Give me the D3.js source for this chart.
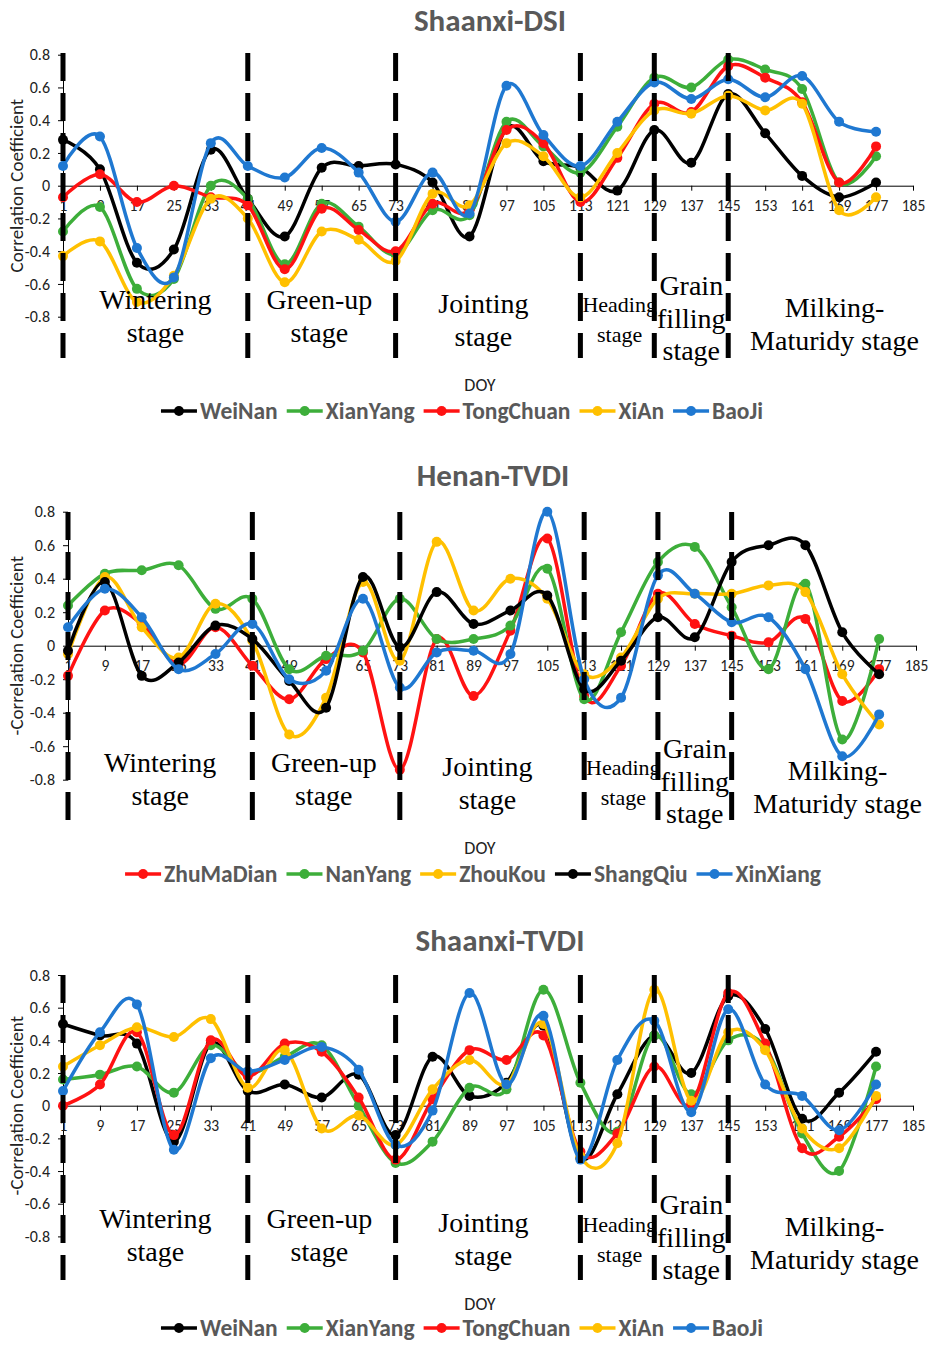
<!DOCTYPE html>
<html>
<head>
<meta charset="utf-8">
<script src="https://cdn.jsdelivr.net/npm/d3@7"></script>
<style>
  body { margin: 0; background: #fff; }
  svg { display: block; }
  .tick text { font-family: Carlito, "Liberation Sans", Arial, sans-serif; fill: #222; }
</style>
</head>
<body>
<svg id="chart" width="928" height="1345"></svg>
<script>
// DOY sample points and axis ticks
const DOY = [1, 9, 17, 25, 33, 41, 49, 57, 65, 73, 81, 89, 97, 105, 113, 121, 129, 137, 145, 153, 161, 169, 177];
const DOY_TICKS = [1, 9, 17, 25, 33, 41, 49, 57, 65, 73, 81, 89, 97, 105, 113, 121, 129, 137, 145, 153, 161, 169, 177, 185];
const Y_TICKS = [0.8, 0.6, 0.4, 0.2, 0, -0.2, -0.4, -0.6, -0.8];
const STAGE_BOUNDS = [1, 41, 73, 113, 129, 145];

const SHAANXI_NAMES = ['WeiNan', 'XianYang', 'TongChuan', 'XiAn', 'BaoJi'];
const SHAANXI_COLORS = ['#000000', '#3dae3a', '#ff1212', '#ffc000', '#1f78d1'];
const HENAN_NAMES = ['ZhuMaDian', 'NanYang', 'ZhouKou', 'ShangQiu', 'XinXiang'];
const HENAN_COLORS = ['#ff1212', '#3dae3a', '#ffc000', '#000000', '#1f78d1'];

// Shaanxi-DSI
const DSI_WEINAN    = [0.28, 0.10, -0.47, -0.39, 0.22, -0.08, -0.31, 0.11, 0.12, 0.13, 0.02, -0.31, 0.35, 0.15, 0.11, -0.03, 0.34, 0.14, 0.56, 0.32, 0.06, -0.07, 0.02];
const DSI_XIANYANG  = [-0.28, -0.13, -0.63, -0.57, 0.00, -0.08, -0.48, -0.11, -0.25, -0.42, -0.15, -0.18, 0.39, 0.24, 0.08, 0.36, 0.66, 0.60, 0.77, 0.71, 0.59, 0.02, 0.18];
const DSI_TONGCHUAN = [-0.07, 0.07, -0.10, 0.00, -0.07, -0.12, -0.51, -0.14, -0.27, -0.40, -0.11, -0.15, 0.34, 0.26, -0.10, 0.17, 0.50, 0.45, 0.73, 0.66, 0.51, 0.02, 0.24];
const DSI_XIAN      = [-0.43, -0.34, -0.71, -0.55, -0.08, -0.20, -0.59, -0.28, -0.33, -0.46, -0.05, -0.12, 0.26, 0.18, -0.07, 0.20, 0.46, 0.44, 0.55, 0.46, 0.50, -0.15, -0.07];
const DSI_BAOJI     = [0.12, 0.30, -0.38, -0.56, 0.26, 0.12, 0.05, 0.23, 0.08, -0.22, 0.08, -0.17, 0.61, 0.31, 0.12, 0.39, 0.63, 0.53, 0.65, 0.54, 0.67, 0.39, 0.33];

// Henan-TVDI
const HN_ZHUMADIAN = [-0.18, 0.21, 0.13, -0.11, 0.11, -0.12, -0.32, -0.08, -0.04, -0.74, 0.04, -0.30, 0.09, 0.64, -0.30, -0.12, 0.31, 0.13, 0.06, 0.02, 0.16, -0.33, -0.14];
const HN_NANYANG   = [0.24, 0.43, 0.45, 0.48, 0.22, 0.28, -0.14, -0.06, -0.03, 0.28, 0.04, 0.04, 0.12, 0.46, -0.32, 0.08, 0.50, 0.59, 0.23, -0.14, 0.37, -0.56, 0.04];
const HN_ZHOUKOU   = [-0.05, 0.41, 0.11, -0.07, 0.25, 0.03, -0.53, -0.31, 0.38, -0.09, 0.62, 0.21, 0.40, 0.28, -0.17, -0.07, 0.28, 0.31, 0.31, 0.36, 0.32, -0.17, -0.47];
const HN_SHANGQIU  = [-0.03, 0.38, -0.18, -0.10, 0.12, 0.04, -0.21, -0.37, 0.41, -0.01, 0.32, 0.13, 0.21, 0.30, -0.26, -0.09, 0.17, 0.05, 0.50, 0.60, 0.60, 0.08, -0.17];
const HN_XINXIANG  = [0.11, 0.34, 0.17, -0.14, -0.05, 0.13, -0.20, -0.15, 0.28, -0.25, -0.04, -0.03, -0.05, 0.80, -0.20, -0.31, 0.42, 0.31, 0.14, 0.17, -0.14, -0.66, -0.41];

// Shaanxi-TVDI
const TV_WEINAN    = [0.50, 0.43, 0.38, -0.22, 0.38, 0.09, 0.13, 0.05, 0.19, -0.18, 0.30, 0.06, 0.14, 0.49, -0.32, 0.07, 0.43, 0.20, 0.67, 0.47, -0.08, 0.08, 0.33];
const TV_XIANYANG  = [0.16, 0.19, 0.24, 0.08, 0.37, 0.20, 0.30, 0.37, 0.00, -0.35, -0.22, 0.11, 0.10, 0.71, 0.14, -0.16, 0.43, 0.07, 0.40, 0.36, -0.17, -0.40, 0.24];
const TV_TONGCHUAN = [0.00, 0.13, 0.45, -0.18, 0.40, 0.18, 0.38, 0.33, 0.05, -0.33, 0.04, 0.34, 0.28, 0.43, -0.28, -0.17, 0.24, 0.01, 0.69, 0.38, -0.26, -0.19, 0.04];
const TV_XIAN      = [0.24, 0.37, 0.48, 0.42, 0.53, 0.11, 0.34, -0.14, -0.06, -0.24, 0.10, 0.28, 0.13, 0.50, -0.31, -0.23, 0.71, 0.03, 0.45, 0.34, -0.14, -0.26, 0.06];
const TV_BAOJI     = [0.09, 0.45, 0.62, -0.27, 0.29, 0.21, 0.28, 0.36, 0.22, -0.24, -0.03, 0.69, 0.13, 0.55, -0.33, 0.28, 0.52, -0.04, 0.59, 0.13, 0.06, -0.15, 0.13];

const STAGES = [
  { lines: ['Wintering', 'stage'], doy: 21, size: 28, dy: [-18, 15] },
  { lines: ['Green-up', 'stage'], doy: 56.5, size: 28, dy: [-18, 15] },
  { lines: ['Jointing', 'stage'], doy: 92, size: 28, dy: [-14, 19] },
  { lines: ['Heading', 'stage'], doy: 121.5, size: 22, dy: [-12, 18] },
  { lines: ['Grain', 'filling', 'stage'], doy: 137, size: 28, dy: [-32, 1, 33] },
  { lines: ['Milking-', 'Maturidy stage'], doy: 168, size: 28, dy: [-10, 23] }
];

const PANELS = [
  { title: 'Shaanxi-DSI', titleX: 490, titleY: 20, yLabel: 'Correlation Coefficient',
    left: 63, right: 913, top: 54.7, bottom: 316.7, dashTop: 53, dashBottom: 358,
    doyY: 385, legendY: 411, legendX: 462,
    names: SHAANXI_NAMES, colors: SHAANXI_COLORS,
    values: [DSI_WEINAN, DSI_XIANYANG, DSI_TONGCHUAN, DSI_XIAN, DSI_BAOJI] },
  { title: 'Henan-TVDI', titleX: 493, titleY: 475, yLabel: '-Correlation Coefficient',
    left: 68, right: 916, top: 511.7, bottom: 779.7, dashTop: 512, dashBottom: 820,
    doyY: 848, legendY: 874, legendX: 473,
    names: HENAN_NAMES, colors: HENAN_COLORS,
    values: [HN_ZHUMADIAN, HN_NANYANG, HN_ZHOUKOU, HN_SHANGQIU, HN_XINXIANG] },
  { title: 'Shaanxi-TVDI', titleX: 500, titleY: 940, yLabel: '-Correlation Coefficient',
    left: 63, right: 913, top: 975, bottom: 1236.4, dashTop: 975, dashBottom: 1280,
    doyY: 1304, legendY: 1328, legendX: 462,
    names: SHAANXI_NAMES, colors: SHAANXI_COLORS,
    values: [TV_WEINAN, TV_XIANYANG, TV_TONGCHUAN, TV_XIAN, TV_BAOJI] }
];

const SANS = 'Carlito, "Liberation Sans", Arial, sans-serif';
const SERIF = '"Liberation Serif", "Times New Roman", serif';

let svg = d3.select('#chart');

function drawPanel(p) {
  let x = d3.scaleLinear().domain([1, 185]).range([p.left, p.right]);
  let y = d3.scaleLinear().domain([-0.8, 0.8]).range([p.bottom, p.top]);
  let g = svg.append('g');

  g.append('text')
    .attr('x', p.titleX).attr('y', p.titleY).attr('dy', '0.35em')
    .attr('text-anchor', 'middle')
    .style('font-family', SANS).style('font-weight', 'bold').style('font-size', '31px')
    .style('fill', '#595959')
    .text(p.title);

  // y axis
  let yAxis = g.append('g')
    .attr('transform', 'translate(' + p.left + ',0)')
    .call(d3.axisLeft(y).tickValues(Y_TICKS).tickSize(5).tickSizeOuter(0).tickPadding(8)
      .tickFormat((d) => d === 0 ? '0' : d.toFixed(1)));
  yAxis.selectAll('text').style('font-size', '16px');

  // x axis on zero line
  let xAxis = g.append('g')
    .attr('transform', 'translate(0,' + y(0) + ')')
    .call(d3.axisBottom(x).tickValues(DOY_TICKS).tickSize(5).tickSizeOuter(0).tickPadding(9));
  xAxis.selectAll('text').style('font-size', '15.5px');
  xAxis.select('.domain').attr('stroke', '#000');

  g.append('text')
    .attr('transform', 'translate(16,' + y(0) + ') rotate(-90)')
    .attr('text-anchor', 'middle').attr('dy', '0.35em')
    .style('font-family', SANS).style('font-size', '19px').style('fill', '#222')
    .text(p.yLabel);

  g.append('text')
    .attr('x', 480).attr('y', p.doyY).attr('dy', '0.35em')
    .attr('text-anchor', 'middle')
    .style('font-family', SANS).style('font-size', '18px').style('fill', '#222')
    .text('DOY');

  // series
  let line = d3.line()
    .x((d) => x(d[0]))
    .y((d) => y(d[1]))
    .curve(d3.curveCardinal.tension(0));

  p.values.forEach((vals, i) => {
    let pts = DOY.map((d, j) => [d, vals[j]]);
    g.append('path')
      .datum(pts)
      .attr('fill', 'none')
      .attr('stroke', p.colors[i])
      .attr('stroke-width', 3.5)
      .attr('d', line);
    g.selectAll(null)
      .data(pts)
      .enter()
      .append('circle')
      .attr('cx', (d) => x(d[0]))
      .attr('cy', (d) => y(d[1]))
      .attr('r', 5)
      .attr('fill', p.colors[i]);
  });

  // stage boundaries
  g.selectAll(null)
    .data(STAGE_BOUNDS)
    .enter()
    .append('line')
    .attr('x1', (d) => x(d)).attr('x2', (d) => x(d))
    .attr('y1', p.dashTop).attr('y2', p.dashBottom)
    .attr('stroke', '#000')
    .attr('stroke-width', 5)
    .attr('stroke-dasharray', '28,12');

  // stage labels
  for (let s of STAGES) {
    s.lines.forEach((t, k) => {
      g.append('text')
        .attr('x', x(s.doy))
        .attr('y', p.bottom + s.dy[k])
        .attr('dy', '0.35em')
        .attr('text-anchor', 'middle')
        .style('font-family', SERIF)
        .style('font-size', s.size + 'px')
        .style('fill', '#000')
        .text(t);
    });
  }

  // legend
  let leg = g.append('g');
  let cx = 0;
  p.names.forEach((name, i) => {
    let item = leg.append('g').attr('transform', 'translate(' + cx + ',0)');
    item.append('line')
      .attr('x1', 0).attr('x2', 36)
      .attr('stroke', p.colors[i]).attr('stroke-width', 3.5);
    item.append('circle')
      .attr('cx', 18).attr('r', 5).attr('fill', p.colors[i]);
    let t = item.append('text')
      .attr('x', 39).attr('dy', '0.35em')
      .style('font-family', SANS).style('font-weight', 'bold').style('font-size', '23.5px')
      .style('fill', '#595959')
      .text(name);
    cx += 39 + t.node().getComputedTextLength() + 9;
  });
  let total = cx - 9;
  leg.attr('transform', 'translate(' + (p.legendX - total / 2) + ',' + p.legendY + ')');
}

PANELS.forEach(drawPanel);
</script>
</body>
</html>
